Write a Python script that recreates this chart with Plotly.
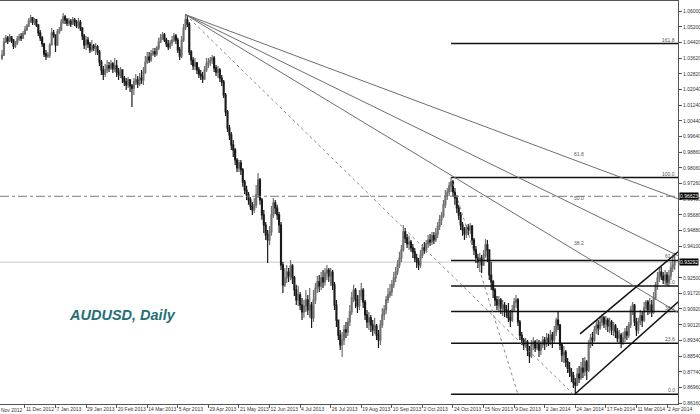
import plotly.graph_objects as go

# AUDUSD daily bars, Nov 2012 - Apr 2014
first_open = 1.0362

closes = [
    1.0377, 1.0443, 1.0464, 1.0448, 1.0469, 1.0453, 1.0423, 1.0438, 1.0458, 1.0469,
    1.0464, 1.0484, 1.0504, 1.0524, 1.0549, 1.0565, 1.0544, 1.0555, 1.0529, 1.0489,
    1.0464, 1.0433, 1.0383, 1.0372, 1.0377, 1.0428, 1.0489, 1.0479, 1.0428, 1.0494,
    1.0504, 1.0544, 1.0570, 1.0555, 1.0539, 1.0549, 1.0534, 1.0555, 1.0544, 1.0524,
    1.0544, 1.0514, 1.0474, 1.0428, 1.0453, 1.0433, 1.0403, 1.0423, 1.0413, 1.0418,
    1.0393, 1.0342, 1.0302, 1.0281, 1.0302, 1.0322, 1.0312, 1.0332, 1.0307, 1.0322,
    1.0291, 1.0276, 1.0302, 1.0261, 1.0241, 1.0226, 1.0251, 1.0221, 1.0210, 1.0241,
    1.0251, 1.0231, 1.0261, 1.0251, 1.0291, 1.0342, 1.0367, 1.0352, 1.0383, 1.0393,
    1.0383, 1.0413, 1.0443, 1.0464, 1.0479, 1.0453, 1.0433, 1.0418, 1.0438, 1.0453,
    1.0474, 1.0453, 1.0403, 1.0372, 1.0453, 1.0514, 1.0555, 1.0534, 1.0393, 1.0352,
    1.0322, 1.0337, 1.0302, 1.0281, 1.0271, 1.0256, 1.0302, 1.0332, 1.0342, 1.0352,
    1.0362, 1.0312, 1.0291, 1.0302, 1.0261, 1.0241, 1.0175, 1.0089, 1.0008, 0.9973,
    0.9922, 0.9897, 0.9846, 0.9806, 0.9831, 0.9796, 0.9735, 0.9694, 0.9669, 0.9644,
    0.9613, 0.9593, 0.9619, 0.9669, 0.9745, 0.9644, 0.9568, 0.9517, 0.9467, 0.9441,
    0.9482, 0.9568, 0.9629, 0.9603, 0.9568, 0.9517, 0.9315, 0.9214, 0.9249, 0.9279,
    0.9259, 0.9310, 0.9249, 0.9188, 0.9138, 0.9163, 0.9112, 0.9077, 0.9107, 0.9138,
    0.9087, 0.9112, 0.9047, 0.9138, 0.9198, 0.9229, 0.9209, 0.9249, 0.9229, 0.9274,
    0.9289, 0.9259, 0.9279, 0.9214, 0.9112, 0.9036, 0.8960, 0.8910, 0.8935, 0.8986,
    0.8976, 0.9026, 0.9077, 0.9148, 0.9188, 0.9138, 0.9107, 0.9158, 0.9188, 0.9127,
    0.9062, 0.9026, 0.9047, 0.9011, 0.8986, 0.9006, 0.8960, 0.8935, 0.9011, 0.9062,
    0.9087, 0.9138, 0.9163, 0.9178, 0.9214, 0.9249, 0.9279, 0.9315, 0.9350, 0.9391,
    0.9482, 0.9451, 0.9421, 0.9431, 0.9401, 0.9381, 0.9350, 0.9330, 0.9315, 0.9365,
    0.9401, 0.9391, 0.9421, 0.9441, 0.9431, 0.9462, 0.9441, 0.9472, 0.9512, 0.9543,
    0.9563, 0.9619, 0.9664, 0.9684, 0.9715, 0.9735, 0.9684, 0.9654, 0.9603, 0.9568,
    0.9517, 0.9492, 0.9472, 0.9502, 0.9492, 0.9512, 0.9441, 0.9391, 0.9350, 0.9330,
    0.9350, 0.9315, 0.9365, 0.9416, 0.9391, 0.9264, 0.9229, 0.9188, 0.9138, 0.9112,
    0.9138, 0.9097, 0.9112, 0.9087, 0.9077, 0.9047, 0.9036, 0.9087, 0.9127, 0.9138,
    0.9026, 0.8960, 0.8935, 0.8910, 0.8925, 0.8884, 0.8854, 0.8910, 0.8925, 0.8895,
    0.8915, 0.8884, 0.8910, 0.8935, 0.8915, 0.8945, 0.8925, 0.8960, 0.8935, 0.8976,
    0.9036, 0.9011, 0.8910, 0.8859, 0.8874, 0.8824, 0.8793, 0.8773, 0.8753, 0.8718,
    0.8707, 0.8763, 0.8743, 0.8793, 0.8773, 0.8824, 0.8783, 0.8910, 0.8945, 0.8935,
    0.8986, 0.9011, 0.8996, 0.9026, 0.9047, 0.9016, 0.9036, 0.9006, 0.9026, 0.8986,
    0.9006, 0.8976, 0.8945, 0.8960, 0.8925, 0.8945, 0.8976, 0.8960, 0.9011, 0.9087,
    0.9112, 0.9026, 0.8986, 0.9026, 0.9057, 0.9036, 0.9097, 0.9127, 0.9087, 0.9112,
    0.9077, 0.9148, 0.9214, 0.9249, 0.9279, 0.9259, 0.9239, 0.9264, 0.9229, 0.9259,
    0.9300, 0.9315, 0.9329,
]

highs = [
    1.0403, 1.0464, 1.0479, 1.0474, 1.0484, 1.0474, 1.0458, 1.0448, 1.0474, 1.0484,
    1.0489, 1.0499, 1.0524, 1.0534, 1.0565, 1.0580, 1.0570, 1.0565, 1.0560, 1.0534,
    1.0504, 1.0474, 1.0438, 1.0403, 1.0393, 1.0438, 1.0514, 1.0504, 1.0479, 1.0509,
    1.0519, 1.0560, 1.0590, 1.0580, 1.0565, 1.0565, 1.0560, 1.0570, 1.0565, 1.0555,
    1.0565, 1.0555, 1.0519, 1.0484, 1.0474, 1.0469, 1.0443, 1.0453, 1.0433, 1.0438,
    1.0428, 1.0403, 1.0352, 1.0322, 1.0332, 1.0352, 1.0342, 1.0352, 1.0342, 1.0362,
    1.0352, 1.0312, 1.0317, 1.0302, 1.0271, 1.0261, 1.0266, 1.0256, 1.0231, 1.0261,
    1.0281, 1.0271, 1.0286, 1.0302, 1.0317, 1.0372, 1.0393, 1.0393, 1.0403, 1.0413,
    1.0413, 1.0423, 1.0464, 1.0484, 1.0494, 1.0489, 1.0464, 1.0453, 1.0453, 1.0474,
    1.0489, 1.0484, 1.0464, 1.0418, 1.0474, 1.0534, 1.0582, 1.0575, 1.0544, 1.0403,
    1.0367, 1.0362, 1.0342, 1.0317, 1.0302, 1.0291, 1.0322, 1.0362, 1.0362, 1.0367,
    1.0377, 1.0372, 1.0327, 1.0322, 1.0312, 1.0276, 1.0251, 1.0185, 1.0099, 1.0023,
    0.9988, 0.9947, 0.9907, 0.9856, 0.9846, 0.9846, 0.9806, 0.9745, 0.9715, 0.9684,
    0.9659, 0.9634, 0.9654, 0.9720, 0.9780, 0.9755, 0.9654, 0.9593, 0.9532, 0.9492,
    0.9512, 0.9613, 0.9654, 0.9644, 0.9619, 0.9583, 0.9532, 0.9330, 0.9300, 0.9315,
    0.9300, 0.9340, 0.9320, 0.9259, 0.9214, 0.9209, 0.9178, 0.9148, 0.9138, 0.9188,
    0.9163, 0.9198, 0.9127, 0.9188, 0.9224, 0.9259, 0.9264, 0.9279, 0.9289, 0.9300,
    0.9315, 0.9300, 0.9300, 0.9289, 0.9229, 0.9138, 0.9026, 0.8986, 0.8976, 0.9011,
    0.9026, 0.9047, 0.9112, 0.9178, 0.9214, 0.9198, 0.9163, 0.9188, 0.9224, 0.9198,
    0.9138, 0.9087, 0.9077, 0.9062, 0.9036, 0.9047, 0.9016, 0.8986, 0.9036, 0.9097,
    0.9112, 0.9158, 0.9198, 0.9219, 0.9239, 0.9279, 0.9305, 0.9340, 0.9381, 0.9416,
    0.9517, 0.9502, 0.9472, 0.9462, 0.9441, 0.9421, 0.9401, 0.9371, 0.9350, 0.9391,
    0.9421, 0.9431, 0.9441, 0.9467, 0.9472, 0.9482, 0.9482, 0.9502, 0.9532, 0.9568,
    0.9583, 0.9644, 0.9694, 0.9704, 0.9735, 0.9757, 0.9745, 0.9704, 0.9669, 0.9619,
    0.9583, 0.9532, 0.9507, 0.9517, 0.9522, 0.9527, 0.9517, 0.9451, 0.9411, 0.9371,
    0.9376, 0.9365, 0.9391, 0.9446, 0.9441, 0.9391, 0.9330, 0.9239, 0.9198, 0.9158,
    0.9158, 0.9148, 0.9138, 0.9127, 0.9112, 0.9122, 0.9087, 0.9112, 0.9148, 0.9163,
    0.9148, 0.9036, 0.8976, 0.8945, 0.8945, 0.8935, 0.8905, 0.8935, 0.8950, 0.8935,
    0.8940, 0.8935, 0.8930, 0.8955, 0.8950, 0.8971, 0.8966, 0.8986, 0.8976, 0.9006,
    0.9047, 0.9077, 0.9016, 0.8920, 0.8905, 0.8884, 0.8844, 0.8824, 0.8793, 0.8773,
    0.8743, 0.8793, 0.8803, 0.8824, 0.8844, 0.8849, 0.8834, 0.8935, 0.8966, 0.8976,
    0.9006, 0.9036, 0.9036, 0.9057, 0.9067, 0.9057, 0.9057, 0.9047, 0.9047, 0.9036,
    0.9026, 0.9016, 0.8996, 0.8986, 0.8971, 0.8976, 0.8996, 0.9006, 0.9026, 0.9107,
    0.9127, 0.9117, 0.9047, 0.9047, 0.9087, 0.9077, 0.9127, 0.9138, 0.9138, 0.9148,
    0.9138, 0.9178, 0.9229, 0.9279, 0.9300, 0.9305, 0.9279, 0.9289, 0.9279, 0.9289,
    0.9330, 0.9365, 0.9376,
]

lows = [
    1.0352, 1.0372, 1.0438, 1.0433, 1.0443, 1.0438, 1.0408, 1.0413, 1.0428, 1.0448,
    1.0448, 1.0458, 1.0479, 1.0499, 1.0519, 1.0539, 1.0529, 1.0529, 1.0519, 1.0474,
    1.0448, 1.0418, 1.0367, 1.0352, 1.0362, 1.0362, 1.0428, 1.0464, 1.0393, 1.0423,
    1.0484, 1.0499, 1.0534, 1.0534, 1.0524, 1.0524, 1.0519, 1.0529, 1.0524, 1.0514,
    1.0509, 1.0499, 1.0453, 1.0408, 1.0403, 1.0413, 1.0388, 1.0393, 1.0398, 1.0377,
    1.0377, 1.0322, 1.0276, 1.0251, 1.0266, 1.0286, 1.0291, 1.0302, 1.0286, 1.0291,
    1.0266, 1.0251, 1.0261, 1.0236, 1.0221, 1.0200, 1.0210, 1.0190, 1.0114, 1.0175,
    1.0226, 1.0210, 1.0221, 1.0231, 1.0226, 1.0281, 1.0332, 1.0337, 1.0342, 1.0372,
    1.0367, 1.0372, 1.0403, 1.0438, 1.0453, 1.0443, 1.0418, 1.0403, 1.0408, 1.0423,
    1.0443, 1.0433, 1.0388, 1.0352, 1.0362, 1.0443, 1.0504, 1.0519, 1.0377, 1.0327,
    1.0302, 1.0302, 1.0281, 1.0261, 1.0251, 1.0236, 1.0251, 1.0291, 1.0312, 1.0322,
    1.0332, 1.0291, 1.0271, 1.0261, 1.0241, 1.0221, 1.0160, 1.0069, 0.9988, 0.9947,
    0.9897, 0.9861, 0.9821, 0.9785, 0.9785, 0.9770, 0.9710, 0.9674, 0.9644, 0.9619,
    0.9593, 0.9568, 0.9578, 0.9603, 0.9654, 0.9619, 0.9543, 0.9477, 0.9441, 0.9325,
    0.9416, 0.9462, 0.9553, 0.9573, 0.9543, 0.9477, 0.9289, 0.9173, 0.9203, 0.9224,
    0.9229, 0.9239, 0.9219, 0.9158, 0.9112, 0.9107, 0.9087, 0.9036, 0.9047, 0.9077,
    0.9062, 0.9047, 0.8996, 0.9026, 0.9117, 0.9173, 0.9178, 0.9188, 0.9198, 0.9209,
    0.9239, 0.9229, 0.9209, 0.9188, 0.9087, 0.9001, 0.8935, 0.8884, 0.8849, 0.8910,
    0.8945, 0.8955, 0.9006, 0.9062, 0.9127, 0.9097, 0.9072, 0.9087, 0.9138, 0.9097,
    0.9036, 0.8996, 0.8986, 0.8976, 0.8955, 0.8966, 0.8935, 0.8895, 0.8910, 0.8996,
    0.9036, 0.9067, 0.9122, 0.9148, 0.9158, 0.9198, 0.9229, 0.9264, 0.9300, 0.9330,
    0.9381, 0.9426, 0.9401, 0.9391, 0.9381, 0.9350, 0.9330, 0.9300, 0.9289, 0.9300,
    0.9350, 0.9371, 0.9376, 0.9401, 0.9411, 0.9416, 0.9421, 0.9431, 0.9451, 0.9492,
    0.9517, 0.9553, 0.9603, 0.9644, 0.9664, 0.9684, 0.9659, 0.9619, 0.9578, 0.9543,
    0.9492, 0.9462, 0.9441, 0.9451, 0.9467, 0.9472, 0.9416, 0.9365, 0.9325, 0.9300,
    0.9279, 0.9274, 0.9310, 0.9350, 0.9330, 0.9239, 0.9188, 0.9148, 0.9107, 0.9087,
    0.9077, 0.9067, 0.9057, 0.9052, 0.9047, 0.9026, 0.9001, 0.9026, 0.9077, 0.9097,
    0.9006, 0.8935, 0.8910, 0.8884, 0.8895, 0.8854, 0.8819, 0.8844, 0.8884, 0.8874,
    0.8884, 0.8849, 0.8859, 0.8895, 0.8884, 0.8900, 0.8905, 0.8910, 0.8895, 0.8915,
    0.8955, 0.8986, 0.8884, 0.8824, 0.8819, 0.8798, 0.8768, 0.8748, 0.8723, 0.8692,
    0.8660, 0.8702, 0.8718, 0.8733, 0.8743, 0.8753, 0.8733, 0.8773, 0.8895, 0.8905,
    0.8925, 0.8966, 0.8960, 0.8986, 0.9006, 0.8996, 0.8986, 0.8976, 0.8971, 0.8960,
    0.8955, 0.8945, 0.8925, 0.8915, 0.8895, 0.8910, 0.8925, 0.8935, 0.8945, 0.8996,
    0.9062, 0.9006, 0.8955, 0.8966, 0.9011, 0.9001, 0.9026, 0.9077, 0.9062, 0.9067,
    0.9052, 0.9067, 0.9138, 0.9188, 0.9229, 0.9239, 0.9219, 0.9214, 0.9209, 0.9203,
    0.9239, 0.9279, 0.9289,
]

# one label every 16 bars, first one on bar 12
date_labels = [
    "11 Dec 2012", "7 Jan 2013", "29 Jan 2013", "20 Feb 2013", "14 Mar 2013",
    "5 Apr 2013", "29 Apr 2013", "21 May 2013", "12 Jun 2013", "4 Jul 2013",
    "26 Jul 2013", "19 Aug 2013", "10 Sep 2013", "2 Oct 2013", "24 Oct 2013",
    "15 Nov 2013", "9 Dec 2013", "2 Jan 2014", "24 Jan 2014", "17 Feb 2014",
    "11 Mar 2014", "2 Apr 2014",
]
first_date_label = "19 Nov 2012"

price_ticks = [
    1.06000, 1.05200, 1.04420, 1.03620, 1.02820, 1.02040, 1.01240, 1.00440,
    0.99640, 0.98860, 0.98060, 0.97260, 0.96480, 0.95680, 0.94880, 0.94100,
    0.92500, 0.91720, 0.90920, 0.90120, 0.89340, 0.88540, 0.87740, 0.86960,
    0.86160,
]

bid_price = 0.93292
level_line = 0.96623

# fibo retracement: Oct 2013 high -> Jan 2014 low
retrace_x = [235, 270]
retrace_y = [0.9757, 0.8660]
retrace_ratios = [0.0, 0.236, 0.382, 0.5, 0.618, 1.0, 1.618]
retrace_labels = ["0.0", "23.6", "38.2", "50.0", "61.8", "100.0", "161.8"]

# fibo fan: Apr 2013 high -> Jan 2014 low
fan_x = [96, 299]
fan_y = [1.0582, 0.8660]
fan_ratios = [0.382, 0.5, 0.618]
fan_labels = ["38.2", "50.0", "61.8"]

# rising channel
channel_upper_x = [302.5, 354]
channel_upper_y = [0.8966, 0.9383]
channel_lower_x = [300, 354]
channel_lower_y = [0.8663, 0.9130]

X_RANGE = [-1.05, 353.75]
Y_RANGE = [0.86111, 1.06506]
RAY_END = 360


def ray(x_pts, y_pts, x_end):
    """
    Extend the segment through two anchor points out to x_end.

    Returns:
        Two lists, the x and y values of the extended line.
    """

    slope = (y_pts[1] - y_pts[0]) / (x_pts[1] - x_pts[0])
    return [x_pts[0], x_end], [y_pts[0], y_pts[0] + slope * (x_end - x_pts[0])]


def line_trace(x, y, color, width=1, dash="solid"):
    return go.Scatter(x=x, y=y, mode="lines", hoverinfo="skip",
                      line=dict(color=color, width=width, dash=dash))


bars = list(range(len(closes)))
# forex bars open where the previous one closed
opens = [first_open] + closes[:-1]

fig = go.Figure()

fig.add_trace(go.Candlestick(
    x=bars, open=opens, high=highs, low=lows, close=closes,
    whiskerwidth=0,
    increasing=dict(line=dict(color="#707070", width=1.2), fillcolor="#a8a8a8"),
    decreasing=dict(line=dict(color="#1a1a1a", width=1.2), fillcolor="#1a1a1a")))

# fibo retracement levels
low, high = retrace_y[1], retrace_y[0]
for ratio, label in zip(retrace_ratios, retrace_labels):
    level = low + ratio * (high - low)
    fig.add_trace(line_trace([retrace_x[0], RAY_END], [level, level], "#111111", 1.5))
    fig.add_annotation(x=1, xref="paper", xanchor="right", xshift=-1,
                       y=level, yref="y", yanchor="bottom", yshift=-1,
                       text=label, showarrow=False,
                       font=dict(size=5, color="#555555"))
fig.add_trace(line_trace(retrace_x, retrace_y, "#8a8a8a", 1, "dot"))

# fibo fan
fig.add_trace(line_trace(fan_x, fan_y, "#8a8a8a", 1, "dot"))
for ratio, label in zip(fan_ratios, fan_labels):
    level = fan_y[1] + ratio * (fan_y[0] - fan_y[1])
    rx, ry = ray(fan_x, [fan_y[0], level], RAY_END)
    fig.add_trace(line_trace(rx, ry, "#6e6e6e", 1))
    fig.add_annotation(x=fan_x[1], y=level, xanchor="left", yanchor="bottom",
                       xshift=-1, yshift=1, text=label, showarrow=False,
                       font=dict(size=5, color="#555555"))

# channel
fig.add_trace(line_trace(channel_upper_x, channel_upper_y, "#111111", 1.5))
fig.add_trace(line_trace(channel_lower_x, channel_lower_y, "#111111", 1.5))

fig.add_shape(type="line", xref="paper", x0=0, x1=1, y0=bid_price, y1=bid_price,
              line=dict(color="#c8c8c8", width=1), layer="below")
fig.add_shape(type="line", xref="paper", x0=0, x1=1, y0=level_line, y1=level_line,
              line=dict(color="#7a7a7a", width=1, dash="dashdot"))

# price boxes on the axis
for value in [level_line, bid_price]:
    fig.add_annotation(x=1, xref="paper", xanchor="left", xshift=1,
                       y=value, yref="y", text=f"{value:.5f}", showarrow=False,
                       bgcolor="#000000", borderpad=0,
                       font=dict(size=5, color="#ffffff"))

# first date label is cut by the left edge
fig.add_annotation(x=0, xref="paper", xanchor="left", xshift=-8,
                   y=0, yref="paper", yanchor="top", yshift=-1,
                   text=first_date_label, showarrow=False,
                   font=dict(size=5, color="#333333"))

fig.add_annotation(x=67 / 678, xref="paper", xanchor="left",
                   y=0.222, yref="paper", yanchor="middle",
                   text="<b><i>AUDUSD, Daily</i></b>", showarrow=False,
                   font=dict(family="Liberation Sans", size=14.5, color="#1f6f78"))

fig.update_layout(
    width=700, height=414,
    margin=dict(l=0, r=22, t=1, b=10),
    paper_bgcolor="white", plot_bgcolor="white",
    showlegend=False,
    font=dict(family="Liberation Sans", size=5, color="#333333"),
    xaxis=dict(
        range=X_RANGE, rangeslider=dict(visible=False),
        tickvals=[12 + 16 * k for k in range(len(date_labels))],
        ticktext=date_labels, tickangle=0, ticks="outside", ticklen=3,
        tickcolor="#555555", ticklabelposition="outside right",
        showgrid=False, zeroline=False, showline=True, mirror=True,
        linecolor="#555555", automargin=False),
    yaxis=dict(
        range=Y_RANGE, side="right",
        tickvals=price_ticks, ticktext=[f"{v:.5f}" for v in price_ticks],
        ticks="outside", ticklen=3, tickcolor="#555555",
        showgrid=False, zeroline=False, showline=True, mirror=True,
        linecolor="#555555", automargin=False))

# drop the page's default body margin so the figure sits at the top-left corner
fig.write_html("out.html", config={"displayModeBar": False},
               post_script="document.body.style.margin = '0';")
